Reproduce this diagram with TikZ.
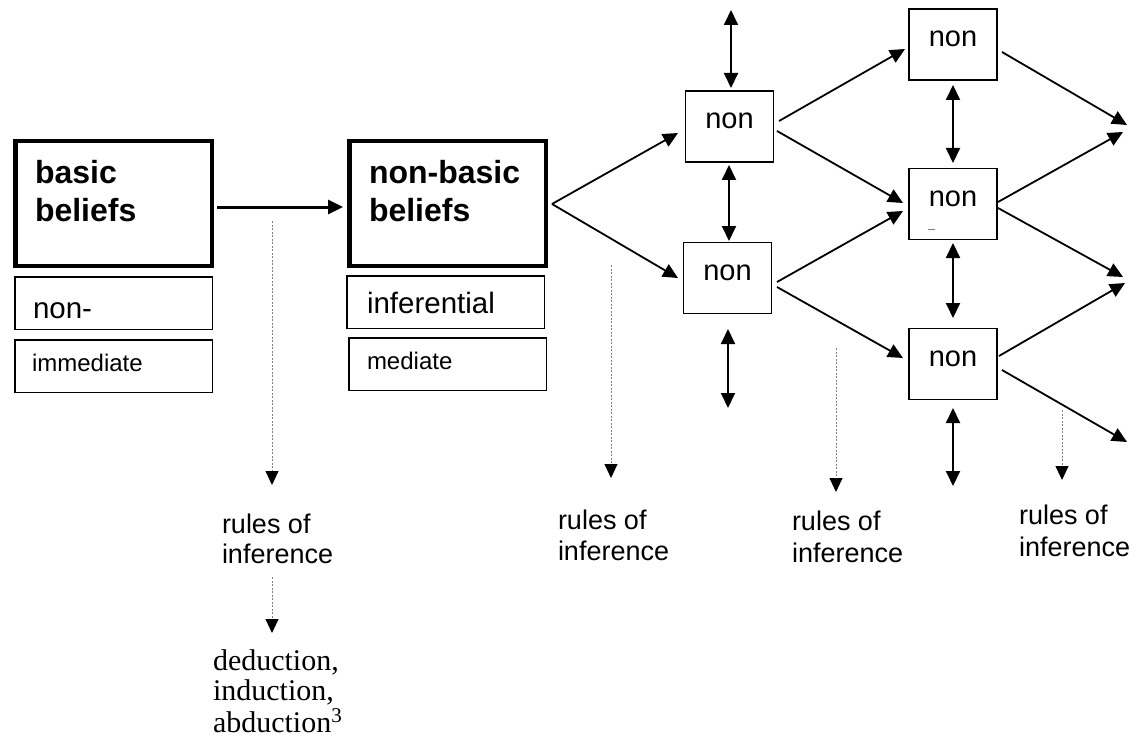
\documentclass[tikz,border=0pt]{standalone}
\usepackage{fontspec}
\setmainfont{Liberation Sans}
\newfontfamily\timesf{Liberation Serif}
\usetikzlibrary{arrows.meta,calc}
\begin{document}
\begin{tikzpicture}[x=1pt,y=-1pt,
  >={Triangle[length=15pt,width=14pt]},
  thickbox/.style={draw, line width=4.5pt, minimum width=196.5pt, minimum height=124.5pt, inner sep=0pt, outer sep=0pt},
  subbox/.style={draw, line width=1.5pt, minimum width=197.5pt, minimum height=52.5pt, inner sep=0pt, outer sep=0pt},
  netbox/.style={draw, line width=1.7pt, minimum width=88pt, minimum height=71pt, inner sep=0pt, outer sep=0pt},
  txt/.style={anchor=base west, inner sep=0pt, outer sep=0pt},
  boldtxt/.style={txt, font=\fontsize{32}{38}\selectfont\bfseries},
  bigtxt/.style={txt, font=\fontsize{29.5}{34}\selectfont},
  smalltxt/.style={txt, font=\fontsize{24}{28}\selectfont},
  ruletxt/.style={txt, font=\fontsize{27}{31}\selectfont},
  serftxt/.style={txt, font=\fontsize{30}{34}\selectfont\timesf},
  nontxt/.style={anchor=base, inner sep=0pt, outer sep=0pt, font=\fontsize{29}{34}\selectfont},
  link/.style={line width=1.8pt, ->},
  dlink/.style={line width=1.9pt, <->},
  mainlink/.style={line width=3pt, ->},
  dotlink/.style={draw=gray, line width=0.9pt, dash pattern=on 2pt off 1.5pt,
     -{Triangle[length=14pt,width=13pt,color=black]}}
]
\fill[white] (0,0) rectangle (1141,741);
\useasboundingbox (0,0) rectangle (1141,741);

% left boxes
\node[thickbox] (B1) at (113.5,203.5) {};
\node[subbox] (S1) at (113.5,303) {};
\node[subbox] (S2) at (113.5,366) {};
\node[thickbox] (B2) at (447.5,203.5) {};
\node[subbox] (S3) at (445.5,302) {};
\node[subbox] (S4) at (447.5,364) {};

\node[boldtxt] (t1) at (35,183) {basic};
\node[boldtxt] (t2) at (35,222) {beliefs};
\node[bigtxt] (t3) at (33,318) {non-};
\node[smalltxt] (t4) at (32,371) {immediate};
\node[boldtxt] (t5) at (369,183) {non-basic};
\node[boldtxt] (t6) at (369,222) {beliefs};
\node[bigtxt] (t7) at (367,313) {inferential};
\node[smalltxt] (t8) at (367,369) {mediate};

% network boxes
\node[netbox] (N1) at (729.5,126.5) {};
\node[netbox] (N2) at (727.5,278) {};
\node[netbox] (N3) at (953,44.5) {};
\node[netbox] (N4) at (953,204) {};
\node[netbox] (N5) at (953,364) {};
\foreach \n in {N1,N2,N3,N4,N5}
  \node[nontxt] (\n t) at ($(\n.center)+(0,2)$) {non};
\draw[gray, line width=0.8pt] ($(N4.center)+(-25,25)$) -- ++(7,0);

% main arrow
\draw[mainlink] ($(B1.center)+(103.5,3.5)$) -- ($(B2.center)+(-104.5,3.5)$);

% fork
\coordinate (fork) at ($(B2.center)+(104.5,0.5)$);
\draw[link] (fork) -- ($(N1.center)+(-51.5,6.5)$);
\draw[link] (fork) -- ($(N2.center)+(-49.5,0)$);

% between columns
\draw[link] ($(N1.center)+(49.5,-5.5)$) -- ($(N3.center)+(-48,4.5)$);
\draw[link] ($(N1.center)+(47.5,4.5)$) -- ($(N4.center)+(-50,-1)$);
\draw[link] ($(N2.center)+(49.5,4)$) -- ($(N4.center)+(-50,7)$);
\draw[link] ($(N2.center)+(49.5,9)$) -- ($(N5.center)+(-50,-6)$);

% outgoing free ends
\coordinate (o1) at (1127,125);
\coordinate (o2) at (1123,132);
\coordinate (o3) at (1123,277);
\coordinate (o4) at (1125,283);
\coordinate (o5) at (1127,442);
\draw[link] ($(N3.center)+(49,7.5)$) -- (o1);
\draw[link] ($(N4.center)+(45,-2)$) -- (o2);
\draw[link] ($(N4.center)+(45,4)$) -- (o3);
\draw[link] ($(N5.center)+(46,-8)$) -- (o4);
\draw[link] ($(N5.center)+(49,6)$) -- (o5);

% vertical double arrows
\coordinate (u1) at (731,10);
\coordinate (b1) at (728,408);
\coordinate (b2) at (953,486);
\draw[dlink] (u1) -- ($(N1.center)+(1.5,-38.5)$);
\draw[dlink] ($(N1.center)+(-0.5,38.5)$) -- ($(N2.center)+(1.5,-37)$);
\draw[dlink] ($(N2.center)+(0.5,51)$) -- (b1);
\draw[dlink] ($(N3.center)+(0,40.5)$) -- ($(N4.center)+(0,-41)$);
\draw[dlink] ($(N4.center)+(0,39)$) -- ($(N5.center)+(0,-46)$);
\draw[dlink] ($(N5.center)+(0,44)$) -- (b2);

% rules of inference texts
\node[ruletxt] (r1a) at (222,533) {rules of};
\node[ruletxt] (r1b) at (222,563) {inference};
\node[ruletxt] (r2a) at (558,529) {rules of};
\node[ruletxt] (r2b) at (558,560) {inference};
\node[ruletxt] (r3a) at (792,530) {rules of};
\node[ruletxt] (r3b) at (792,562) {inference};
\node[ruletxt] (r4a) at (1019,524) {rules of};
\node[ruletxt] (r4b) at (1019,556) {inference};

\node[serftxt] (d1) at (213,670) {deduction,};
\node[serftxt] (d2) at (213,700) {induction,};
\node[serftxt] (d3) at (213,732) {abduction\textsuperscript{3}};

% dotted arrows
\coordinate (s1) at (272,221);
\coordinate (e1) at (272,485);
\coordinate (s1b) at (272,577);
\coordinate (e1b) at (272,633);
\coordinate (s2) at (611,265);
\coordinate (e2) at (611,478);
\coordinate (s3) at (836,348);
\coordinate (e3) at (836,492);
\coordinate (s4) at (1062,410);
\coordinate (e4) at (1062,480);
\draw[dotlink] (s1) -- (e1);
\draw[dotlink] (s1b) -- (e1b);
\draw[dotlink] (s2) -- (e2);
\draw[dotlink] (s3) -- (e3);
\draw[dotlink] (s4) -- (e4);
\end{tikzpicture}
\end{document}
